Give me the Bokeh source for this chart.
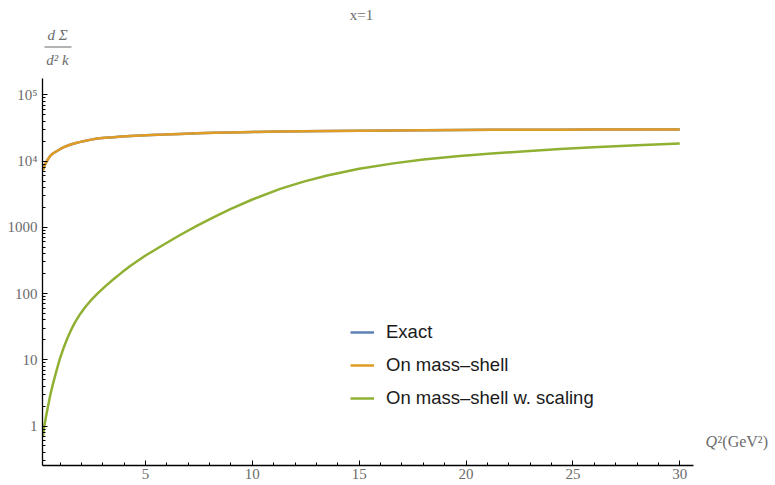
from bokeh.plotting import figure
from bokeh.models import (Range1d, FixedTicker, SingleIntervalTicker, Label,
                          BoxAnnotation, Legend, LegendItem, ColumnDataSource)
from bokeh.embed import file_html
from bokeh.resources import INLINE

# ---- data ----
q2 = [0.2, 0.25, 0.3, 0.35, 0.4, 0.48, 0.56, 0.65, 0.8, 0.9, 1.0, 1.18, 1.35, 1.5,
      1.7, 1.96, 2.2, 2.4, 2.74, 3.1, 3.5, 3.9, 4.3, 5.0, 5.86, 6.6, 7.42, 8.2,
      8.97, 10.0, 11.3, 12.4, 13.5, 15.0, 16.6, 18.0, 19.7, 21.2, 22.8, 24.4,
      25.95, 28.0, 30.0]
exact_vals = [7300, 8130, 8900, 9550, 10200, 11200, 12200, 12900, 13800, 14450,
              15100, 16200, 17050, 17800, 18550, 19500, 20300, 20900, 21900, 22400,
              22900, 23450, 24000, 24500, 25100, 25700, 26200, 26700, 27100, 27550,
              27950, 28250, 28500, 28800, 29050, 29250, 29450, 29580, 29700, 29800,
              29880, 29950, 30000]
onshell_vals = [7300, 8130, 8900, 9550, 10200, 11200, 12200, 12900, 13800, 14450,
                15100, 16200, 17050, 17800, 18550, 19500, 20300, 20900, 21900, 22400,
                22900, 23450, 24000, 24500, 25100, 25700, 26200, 26700, 27100, 27550,
                27950, 28250, 28500, 28800, 29050, 29250, 29450, 29580, 29700, 29800,
                29880, 29950, 30000]
scaling_vals = [0.708, 0.923, 1.148, 1.413, 1.718, 2.317, 3.09, 4.07, 6.24, 8.13,
                10.47, 15.5, 21.4, 27.5, 36.7, 50.1, 63.8, 75.9, 98.9, 127.4, 164.1,
                208.9, 263, 375.8, 549.5, 758.6, 1059, 1429, 1884, 2630, 3802, 4887,
                6039, 7656, 9226, 10520, 11885, 13002, 14125, 15171, 16106, 17298,
                18408]

series_names = ["Exact", "On mass\u2013shell", "On mass\u2013shell w. scaling"]
series_colors = ["#5E81B5", "#E19C24", "#8FB032"]

y_tick_values = [1, 10, 100, 1000, 10000, 100000]
y_tick_labels = ["1", "10", "100", "1000", "10\u2074", "10\u2075"]

title_text = "x=1"
ylabel_num = "d \u03a3"
ylabel_den = "d\u00b2 k"
xlabel_var = "Q"
xlabel_rest = "\u00b2(GeV\u00b2)"

GRAY = "#6b6b6b"
SERIF = "Liberation Serif"
Y_LO, Y_AXIS_TOP = 0.2535, 176200

p = figure(width=775, height=485, output_backend="svg", toolbar_location=None,
           y_axis_type="log", x_range=Range1d(0.18, 34.48),
           y_range=Range1d(Y_LO, 2.655e6),
           min_border_left=42, min_border_right=0, min_border_top=0,
           min_border_bottom=20)
p.outline_line_color = None
p.grid.visible = False
p.background_fill_color = "white"

src = ColumnDataSource(dict(q2=q2, exact=exact_vals, onshell=onshell_vals,
                            scaling=scaling_vals))
renderers = []
for col, color in zip(["exact", "onshell", "scaling"], series_colors):
    r = p.line("q2", col, source=src, line_color=color, line_width=2.5)
    renderers.append(r)

# axes
xa = p.xaxis[0]
xa.ticker = SingleIntervalTicker(interval=5, num_minor_ticks=5)
xa.bounds = (0.18, 30.63)
ya = p.yaxis[0]
minor = [m * 10.0 ** d for d in range(-1, 6) for m in range(2, 10)]
minor = [v for v in minor if Y_LO <= v <= Y_AXIS_TOP]
ya.ticker = FixedTicker(ticks=y_tick_values, minor_ticks=minor)
ya.major_label_overrides = {v: t for v, t in zip(y_tick_values, y_tick_labels)}
ya.bounds = (Y_LO, Y_AXIS_TOP)

for ax in (xa, ya):
    ax.axis_line_color = "black"
    ax.axis_line_width = 1.3
    ax.major_tick_in = 5
    ax.major_tick_out = 0
    ax.minor_tick_in = 3
    ax.minor_tick_out = 0
    ax.major_tick_line_color = "black"
    ax.minor_tick_line_color = "black"
    ax.major_label_text_font = SERIF
    ax.major_label_text_font_size = "15px"
    ax.major_label_text_color = GRAY
xa.major_label_standoff = 3
ya.major_label_standoff = 5

# legend
items = [LegendItem(label=n, renderers=[r]) for n, r in zip(series_names, renderers)]
legend = Legend(items=items, location=(308, 56), border_line_color=None,
                background_fill_alpha=0, padding=0, margin=0, spacing=11,
                glyph_width=24, glyph_height=20, label_height=20,
                label_standoff=12, label_text_font="Liberation Sans",
                label_text_font_size="18.5px", label_text_color="#1a1a1a")
p.add_layout(legend)

# texts (screen units, relative to the plot frame)
def lab(x, y, text, align="center", style="normal", size="15px"):
    p.add_layout(Label(x=x, y=y, x_units="screen", y_units="screen", text=text,
                       text_font=SERIF, text_font_size=size, text_color=GRAY,
                       text_font_style=style, text_align=align,
                       text_baseline="middle"))

lab(319, 451, title_text)
lab(15, 431, ylabel_num, style="italic")
lab(15, 406, ylabel_den, style="italic")
lab(663, 24, xlabel_var, align="left", style="italic", size="16px")
lab(675, 24, xlabel_rest, align="left", size="16px")
p.add_layout(BoxAnnotation(left=2, right=29, bottom=418, top=419,
                           left_units="screen", right_units="screen",
                           bottom_units="screen", top_units="screen",
                           fill_color=GRAY, fill_alpha=1, line_color=None))

open("out.html", "w").write(file_html(p, INLINE))
